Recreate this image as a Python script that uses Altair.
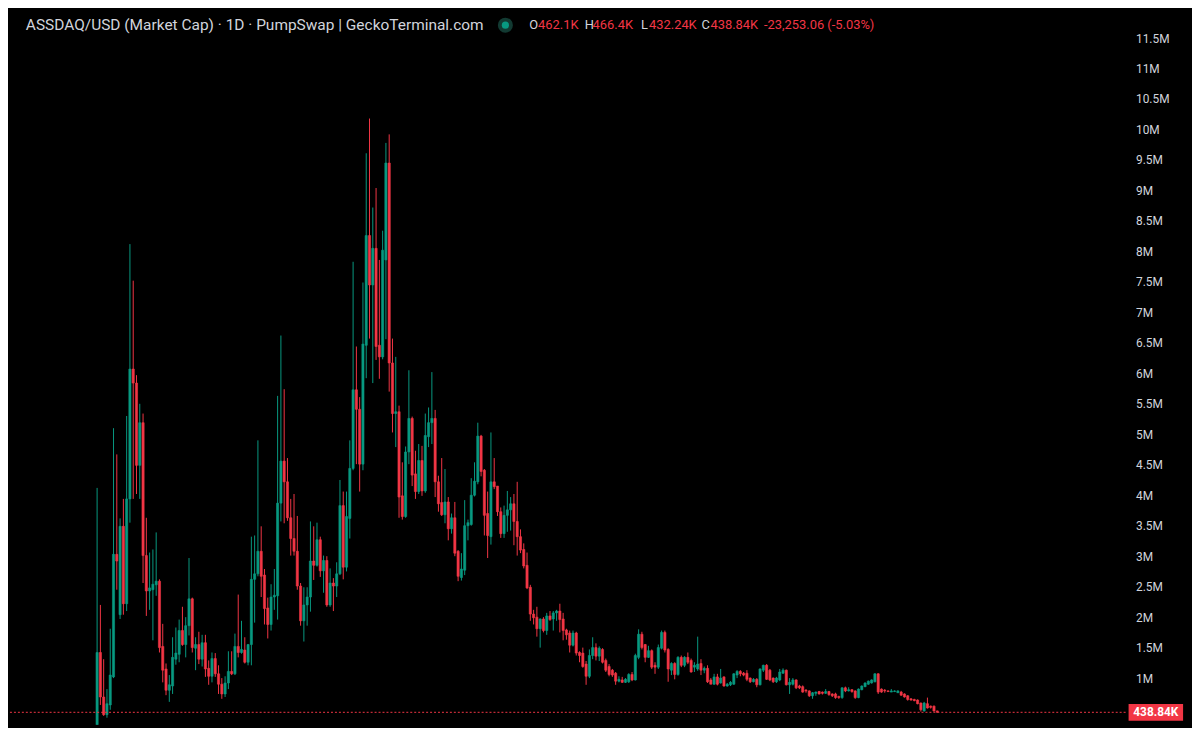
import altair as alt
import pandas as pd

# Daily candles (values in millions of USD market cap)
open_ = [
    0.05, 1.42, 0.69, 0.40, 0.56, 1.02, 3.03, 2.04, 3.49, 2.22,
    3.94, 6.07, 5.84, 4.49, 5.19, 3.01, 2.43, 2.45, 2.53, 2.59,
    1.52, 1.15, 0.80, 0.87, 1.31, 1.39, 1.78, 1.55, 1.86, 2.30,
    1.49, 1.55, 1.31, 1.58, 1.16, 1.03, 1.32, 1.07, 0.90, 0.74,
    0.92, 1.11, 1.07, 1.52, 1.42, 1.46, 1.26, 1.55, 2.62, 2.71,
    3.08, 2.69, 2.15, 1.88, 2.33, 2.35, 3.87, 4.56, 4.22, 3.63,
    3.29, 3.08, 2.51, 1.94, 2.20, 2.33, 2.92, 2.85, 3.27, 2.76,
    2.93, 2.20, 2.56, 2.51, 2.71, 3.83, 2.82, 3.62, 4.44, 5.73,
    5.41, 4.51, 6.46, 8.26, 7.45, 8.05, 6.46, 6.27, 7.86, 9.45,
    6.17, 5.34, 5.37, 3.99, 3.65, 4.71, 5.26, 4.35, 4.06, 4.57,
    4.07, 4.96, 5.19, 5.26, 4.22, 3.88, 3.68, 3.89, 3.45, 3.63,
    3.08, 2.65, 2.77, 3.50, 3.52, 4.00, 4.22, 4.97, 4.41, 3.70,
    3.32, 4.22, 4.15, 3.73, 3.37, 3.67, 3.76, 3.86, 3.57, 3.32,
    3.11, 2.85, 2.49, 2.05, 2.00, 1.81, 1.97, 1.78, 2.02, 1.97,
    2.07, 2.10, 1.97, 1.79, 1.74, 1.54, 1.74, 1.42, 1.41, 1.23,
    1.03, 1.37, 1.50, 1.36, 1.47, 1.29, 1.19, 1.13, 1.08, 0.95,
    0.97, 0.93, 0.94, 1.06, 0.97, 1.34, 1.72, 1.55, 1.34, 1.45,
    1.21, 1.18, 1.49, 1.75, 1.47, 1.13, 1.24, 1.06, 1.34, 1.21,
    1.34, 1.29, 1.18, 1.15, 1.24, 1.13, 1.16, 0.97, 0.90, 1.02,
    0.92, 1.02, 0.87, 0.89, 0.90, 1.05, 1.11, 1.08, 1.08, 1.00,
    0.94, 0.98, 0.89, 1.13, 1.21, 1.13, 1.00, 0.94, 0.97, 1.08,
    1.13, 0.89, 0.90, 0.97, 0.87, 0.86, 0.80, 0.79, 0.71, 0.75,
    0.78, 0.77, 0.75, 0.78, 0.74, 0.74, 0.70, 0.68, 0.84, 0.79,
    0.81, 0.79, 0.68, 0.81, 0.86, 0.90, 0.92, 0.94, 1.07, 0.82,
    0.80, 0.79, 0.77, 0.78, 0.76, 0.77, 0.74, 0.71, 0.66, 0.65,
    0.64, 0.59, 0.46, 0.58, 0.54, 0.54, 0.4621,
]
high = [
    4.12, 2.20, 1.31, 0.82, 1.81, 5.10, 4.67, 3.62, 3.94, 5.30,
    8.12, 7.52, 5.97, 5.50, 5.34, 3.63, 3.06, 3.11, 3.39, 2.62,
    1.89, 1.24, 1.05, 1.67, 1.83, 1.96, 2.17, 2.00, 2.97, 2.32,
    1.67, 1.76, 1.71, 1.71, 1.29, 1.42, 1.41, 1.21, 1.00, 1.03,
    1.44, 1.44, 1.73, 2.37, 1.94, 1.67, 1.56, 3.32, 3.34, 4.90,
    3.49, 2.79, 2.32, 2.54, 2.79, 5.63, 6.62, 5.74, 4.61, 3.94,
    4.02, 3.66, 2.56, 2.49, 2.49, 3.57, 3.49, 3.55, 3.32, 3.01,
    3.00, 2.80, 2.64, 2.90, 4.25, 4.06, 4.06, 4.90, 7.83, 6.44,
    5.61, 7.49, 9.61, 10.18, 8.72, 9.04, 7.86, 8.34, 9.78, 9.92,
    6.57, 6.27, 5.47, 4.54, 4.80, 6.05, 5.29, 4.73, 4.84, 4.81,
    5.34, 5.44, 6.02, 5.40, 4.32, 4.61, 4.43, 3.97, 3.70, 3.89,
    3.10, 3.05, 3.92, 3.60, 4.28, 4.54, 5.19, 4.99, 4.43, 4.06,
    5.03, 4.61, 4.15, 3.80, 3.83, 4.07, 3.97, 4.02, 4.22, 3.44,
    3.21, 3.06, 2.53, 2.12, 2.17, 1.98, 2.00, 2.07, 2.10, 2.10,
    2.12, 2.22, 2.07, 1.81, 1.78, 1.78, 1.76, 1.44, 1.50, 1.28,
    1.47, 1.67, 1.57, 1.52, 1.49, 1.32, 1.23, 1.15, 1.10, 1.03,
    1.02, 1.00, 1.08, 1.10, 1.40, 1.80, 1.76, 1.56, 1.53, 1.47,
    1.26, 1.55, 1.78, 1.78, 1.49, 1.26, 1.26, 1.36, 1.37, 1.36,
    1.42, 1.32, 1.26, 1.68, 1.31, 1.19, 1.21, 1.00, 1.07, 1.07,
    1.15, 1.03, 0.92, 0.95, 1.08, 1.13, 1.13, 1.10, 1.13, 1.01,
    1.00, 1.00, 1.16, 1.22, 1.23, 1.15, 1.01, 1.02, 1.15, 1.16,
    1.14, 1.00, 1.00, 0.98, 0.89, 0.88, 0.82, 0.80, 0.77, 0.78,
    0.79, 0.78, 0.82, 0.79, 0.75, 0.76, 0.71, 0.85, 0.86, 0.85,
    0.82, 0.80, 0.83, 0.88, 0.93, 0.96, 0.98, 1.08, 1.08, 0.83,
    0.82, 0.80, 0.82, 0.80, 0.80, 0.79, 0.75, 0.72, 0.67, 0.66,
    0.65, 0.60, 0.61, 0.68, 0.55, 0.55, 0.4664,
]
low = [
    0.02, 0.56, 0.38, 0.35, 0.48, 1.00, 2.45, 1.97, 2.04, 2.10,
    3.55, 3.94, 4.02, 3.94, 2.56, 2.02, 2.12, 1.62, 2.35, 1.42,
    0.93, 0.72, 0.61, 0.74, 1.22, 1.26, 1.53, 1.34, 1.70, 1.42,
    1.13, 1.23, 1.19, 1.02, 0.89, 0.93, 1.02, 0.74, 0.66, 0.69,
    0.82, 1.05, 1.05, 1.34, 1.40, 1.24, 1.21, 1.21, 1.91, 2.67,
    2.33, 1.88, 1.65, 1.78, 2.12, 1.96, 3.57, 3.54, 3.58, 3.01,
    3.01, 2.45, 1.86, 1.60, 1.86, 2.09, 2.61, 2.83, 2.66, 2.40,
    2.17, 2.17, 2.10, 2.33, 2.69, 2.62, 2.75, 3.29, 4.41, 4.51,
    4.06, 4.41, 5.92, 6.57, 5.84, 6.22, 5.91, 6.23, 6.56, 5.70,
    5.03, 4.79, 3.63, 3.60, 3.63, 4.51, 4.15, 3.94, 4.02, 3.99,
    4.04, 4.79, 4.84, 3.97, 3.73, 3.66, 3.54, 3.26, 3.37, 3.00,
    2.59, 2.60, 2.69, 3.26, 3.50, 3.98, 4.18, 4.31, 3.34, 2.97,
    3.19, 4.10, 3.66, 3.30, 3.30, 3.40, 3.42, 3.18, 3.01, 3.05,
    2.80, 2.46, 1.94, 1.88, 1.68, 1.50, 1.75, 1.71, 1.94, 1.78,
    1.94, 1.75, 1.62, 1.63, 1.42, 1.52, 1.37, 1.26, 1.17, 0.89,
    1.00, 1.31, 1.29, 1.28, 1.24, 1.10, 1.03, 1.02, 0.89, 0.93,
    0.92, 0.92, 0.92, 0.95, 0.96, 1.31, 1.47, 1.26, 1.33, 1.15,
    1.07, 1.15, 1.47, 1.42, 0.94, 1.05, 0.98, 1.04, 1.18, 1.18,
    1.23, 1.09, 1.10, 1.12, 1.05, 1.08, 0.92, 0.90, 0.89, 0.88,
    0.91, 0.86, 0.86, 0.87, 0.89, 1.00, 1.03, 1.03, 0.95, 0.92,
    0.93, 0.85, 0.88, 1.10, 0.97, 0.95, 0.92, 0.92, 0.95, 1.07,
    0.88, 0.74, 0.88, 0.82, 0.82, 0.76, 0.76, 0.69, 0.66, 0.71,
    0.73, 0.73, 0.74, 0.71, 0.69, 0.66, 0.66, 0.66, 0.77, 0.78,
    0.76, 0.66, 0.67, 0.80, 0.85, 0.89, 0.91, 0.93, 0.74, 0.76,
    0.76, 0.77, 0.77, 0.77, 0.76, 0.71, 0.68, 0.63, 0.63, 0.62,
    0.57, 0.45, 0.45, 0.50, 0.50, 0.45, 0.43224,
]
close = [
    1.42, 0.69, 0.40, 0.58, 1.05, 3.03, 2.92, 3.49, 2.22, 3.94,
    6.07, 5.84, 4.49, 5.19, 3.01, 2.43, 2.48, 2.54, 2.59, 1.50,
    1.13, 0.80, 0.89, 1.34, 1.41, 1.78, 1.55, 1.86, 2.30, 1.50,
    1.55, 1.31, 1.58, 1.15, 1.03, 1.32, 1.07, 0.90, 0.74, 0.92,
    1.11, 1.07, 1.52, 1.42, 1.47, 1.26, 1.55, 2.62, 2.71, 3.08,
    2.67, 2.14, 1.88, 2.33, 2.36, 3.87, 4.56, 4.22, 3.63, 3.29,
    3.08, 2.51, 1.94, 2.20, 2.33, 2.92, 2.85, 3.27, 2.76, 2.93,
    2.20, 2.56, 2.51, 2.71, 3.83, 2.82, 3.65, 4.44, 5.73, 5.41,
    4.51, 6.48, 8.26, 7.45, 8.05, 6.44, 6.27, 8.02, 9.45, 6.17,
    5.34, 5.37, 3.97, 3.65, 4.71, 5.26, 4.33, 4.06, 4.57, 4.07,
    4.98, 5.19, 5.26, 4.22, 3.86, 3.68, 3.89, 3.45, 3.63, 3.05,
    2.67, 2.79, 3.50, 3.55, 4.00, 4.23, 4.97, 4.39, 3.67, 3.34,
    4.22, 4.14, 3.73, 3.37, 3.67, 3.76, 3.86, 3.57, 3.32, 3.10,
    2.84, 2.48, 2.05, 1.99, 1.81, 1.97, 1.78, 2.02, 1.96, 2.07,
    2.10, 1.96, 1.78, 1.71, 1.54, 1.74, 1.41, 1.37, 1.19, 1.03,
    1.37, 1.50, 1.36, 1.49, 1.26, 1.13, 1.06, 1.05, 0.95, 0.98,
    0.93, 0.98, 1.06, 0.97, 1.37, 1.72, 1.50, 1.34, 1.45, 1.18,
    1.18, 1.50, 1.75, 1.46, 1.15, 1.24, 1.06, 1.34, 1.21, 1.34,
    1.26, 1.10, 1.21, 1.23, 1.13, 1.16, 0.94, 0.90, 1.02, 0.90,
    1.00, 0.87, 0.90, 0.93, 1.07, 1.11, 1.07, 1.05, 0.98, 0.94,
    0.98, 0.89, 1.15, 1.21, 0.98, 0.97, 0.94, 1.00, 1.10, 1.13,
    0.89, 0.93, 0.97, 0.84, 0.84, 0.77, 0.79, 0.71, 0.76, 0.77,
    0.74, 0.75, 0.78, 0.73, 0.71, 0.68, 0.68, 0.84, 0.79, 0.81,
    0.78, 0.68, 0.82, 0.87, 0.92, 0.95, 0.97, 1.07, 0.77, 0.77,
    0.79, 0.78, 0.79, 0.79, 0.79, 0.72, 0.69, 0.65, 0.64, 0.63,
    0.58, 0.48, 0.59, 0.51, 0.52, 0.46, 0.43884,
]

y_ticks = [0.5, 1, 1.5, 2, 2.5, 3, 3.5, 4, 4.5, 5, 5.5, 6, 6.5, 7, 7.5,
           8, 8.5, 9, 9.5, 10, 10.5, 11, 11.5]

title_text = "ASSDAQ/USD (Market Cap) · 1D · PumpSwap | GeckoTerminal.com"
ohlc_names = ["O", "H", "L", "C"]
ohlc_values = ["462.1K", "466.4K", "432.24K", "438.84K"]
change_text = "-23,253.06 (-5.03%)"
price_label = "438.84K"

GREEN = "#089981"
RED = "#f23645"
GREY = "#d1d4dc"
FONT = "Roboto"

df = pd.DataFrame({
    "i": list(range(len(close))),
    "open": open_, "high": high, "low": low, "close": close,
})
df["dir"] = ["up" if c >= o else "down" for o, c in zip(open_, close)]

xscale = alt.Scale(domain=[-25.34, 311.88], nice=False, zero=False)
yscale = alt.Scale(domain=[0.2357, 11.939], nice=False, zero=False)
cscale = alt.Scale(domain=["up", "down"], range=[GREEN, RED])

yaxis = alt.Axis(
    orient="right", values=y_ticks, title=None, domain=False, ticks=False,
    grid=False, labelColor=GREY, labelFontSize=12, labelFont=FONT,
    labelPadding=10, labelAlign="left", labelBaseline="middle",
    labelOverlap=False,
    labelExpr="datum.value < 1 ? (datum.value * 1000) + 'K' : datum.value + 'M'",
)

base = alt.Chart(df).encode(x=alt.X("i:Q", scale=xscale, axis=None))

wicks = base.mark_rule(strokeWidth=1, clip=True).encode(
    y=alt.Y("low:Q", scale=yscale, axis=yaxis),
    y2="high:Q",
    color=alt.Color("dir:N", scale=cscale, legend=None),
)
bodies = base.mark_bar(size=2.2, strokeWidth=0.6, clip=True).encode(
    y=alt.Y("open:Q", scale=yscale, axis=yaxis),
    y2="close:Q",
    color=alt.Color("dir:N", scale=cscale, legend=None),
    stroke=alt.Stroke("dir:N", scale=cscale, legend=None),
)

last = pd.DataFrame({"price": [close[-1]], "label": [price_label]})
pline = alt.Chart(last).mark_rule(color=RED, strokeDash=[2, 2], strokeWidth=1).encode(
    y=alt.Y("price:Q", scale=yscale, axis=yaxis)
)
pbox = alt.Chart(last).mark_rule(color=RED, strokeWidth=17, strokeCap="butt").encode(
    x=alt.value(1130), x2=alt.value(1185),
    y=alt.Y("price:Q", scale=yscale, axis=yaxis),
)
ptext = alt.Chart(last).mark_text(
    color="white", fontSize=12, fontWeight="bold", font=FONT,
    align="center", baseline="middle",
).encode(
    x=alt.value(1157.5), y=alt.Y("price:Q", scale=yscale, axis=yaxis),
    text="label:N",
)

one = alt.Data(values=[{"k": 1}])


def txt(s, x, color, size=13, y=14):
    return alt.Chart(one).mark_text(
        align="left", baseline="middle", font=FONT, fontSize=size, color=color
    ).encode(x=alt.value(x), y=alt.value(y), text=alt.value(s))


header = [txt(title_text, 17, GREY, size=15.6)]
halo = alt.Chart(one).mark_point(filled=True, shape="circle", size=230,
                                 color="#123a32", opacity=1).encode(
    x=alt.value(501), y=alt.value(14))
dot = alt.Chart(one).mark_point(filled=True, shape="circle", size=52,
                                color=GREEN, opacity=1).encode(
    x=alt.value(501), y=alt.value(14))
name_x = [525, 581, 638, 699]
val_x = [534, 589, 646, 708]
for n, v, nx, vx in zip(ohlc_names, ohlc_values, name_x, val_x):
    header.append(txt(n, nx, GREY))
    header.append(txt(v, vx, RED))
header.append(txt(change_text, 762, RED))

chart = alt.layer(
    wicks, bodies, pline, pbox, ptext, halo, dot, *header
).properties(width=1127, height=720, padding=0).configure(
    background="#000000"
).configure_view(strokeWidth=0)

chart.save("out.html", embed_options={"renderer": "svg", "actions": False})
